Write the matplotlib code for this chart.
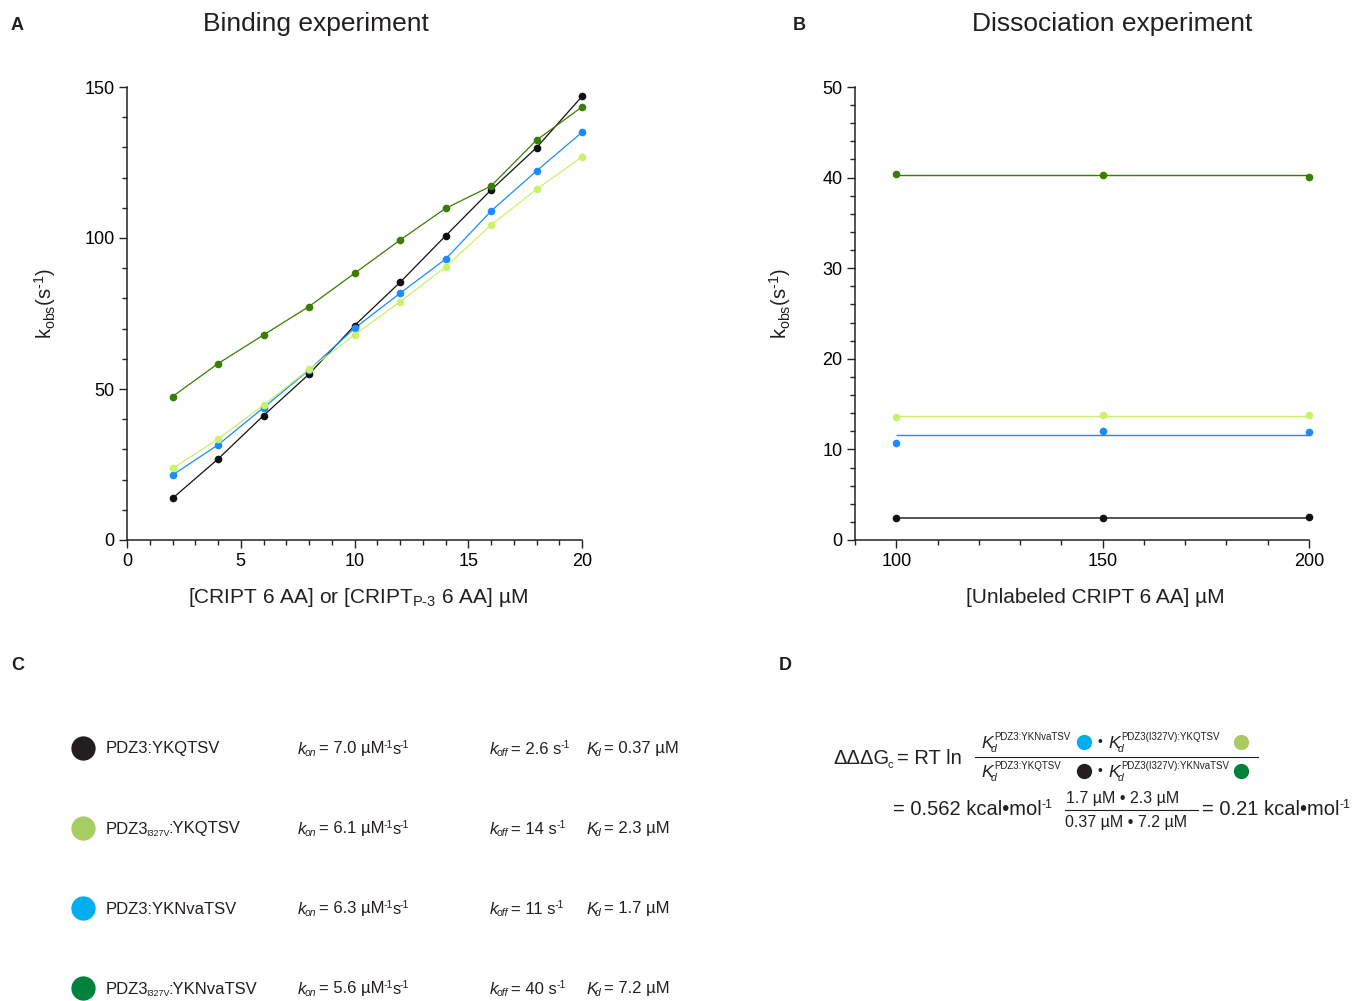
import matplotlib
matplotlib.use('Agg')
import matplotlib.pyplot as plt
from matplotlib.ticker import MultipleLocator

plt.rcParams['font.family'] = ['Liberation Sans', 'DejaVu Sans']
plt.rcParams['mathtext.fontset'] = 'custom'
plt.rcParams['mathtext.rm'] = 'Liberation Sans'
plt.rcParams['mathtext.it'] = 'Liberation Sans:italic'
plt.rcParams['mathtext.bf'] = 'Liberation Sans:bold'

# ---------------- data ----------------
conc = [2, 4, 6, 8, 10, 12, 14, 16, 18, 20]
kobs_ykqtsv = [13.8, 26.8, 41.2, 54.9, 71.0, 85.3, 100.7, 115.9, 129.9, 146.9]
kobs_yknva = [21.5, 31.5, 43.8, 56.3, 70.1, 81.7, 93.0, 108.9, 122.2, 135.0]
kobs_i327v_ykqtsv = [23.7, 33.4, 44.7, 56.5, 67.9, 78.9, 90.4, 104.3, 116.1, 126.9]
kobs_i327v_yknva = [47.5, 58.4, 67.9, 77.3, 88.3, 99.3, 109.8, 117.2, 132.4, 143.4]

diss_conc = [100, 150, 200]
diss_ykqtsv = [2.39, 2.39, 2.57]
diss_yknva = [10.7, 12.0, 11.9]
diss_i327v_ykqtsv = [13.6, 13.8, 13.8]
diss_i327v_yknva = [40.4, 40.3, 40.1]
diss_fit = [2.45, 11.55, 13.7, 40.3]

legend_labels = [r"PDZ3$_{\mathrm{YKQTSV}}$", r"PDZ3$_{\mathrm{YKNvaTSV}}$",
                 r"PDZ3 I327V$_{\mathrm{YKQTSV}}$", r"PDZ3 I327V$_{\mathrm{YKNvaTSV}}$"]
table_names = [("PDZ3:YKQTSV", "", ""), ("PDZ3", "I327V", ":YKQTSV"),
               ("PDZ3:YKNvaTSV", "", ""), ("PDZ3", "I327V", ":YKNvaTSV")]
table_kon = ["7.0", "6.1", "6.3", "5.6"]
table_koff = ["2.6", "14", "11", "40"]
table_kd = ["0.37", "2.3", "1.7", "7.2"]

data_colors = ['#111111', '#1a8cff', '#c8f26a', '#3b7d00']
key_colors = ['#231f20', '#00aeef', '#a6cc62', '#00813e']
table_colors = ['#231f20', '#a6cc62', '#00aeef', '#00813e']
TXT = '#231f20'

fig = plt.figure(figsize=(13.62, 10.01), dpi=100)
W, H = 1362, 1001


def style_axes(ax):
    for s in ['top', 'right']:
        ax.spines[s].set_visible(False)
    for s in ['left', 'bottom']:
        ax.spines[s].set_linewidth(1.1)
        ax.spines[s].set_color('#222222')
    ax.tick_params(which='major', length=6, width=1.0, labelsize=13, colors='#222222', pad=3)
    ax.tick_params(which='minor', length=3.5, width=1.0, colors='#222222')
    for lab in ax.get_xticklabels() + ax.get_yticklabels():
        lab.set_color('black')


# ---------------- Panel A ----------------
axA = fig.add_axes([127 / W, 1 - 540 / H, 455 / W, 453 / H])
seriesA = [kobs_ykqtsv, kobs_yknva, kobs_i327v_ykqtsv, kobs_i327v_yknva]
for vals, c in zip(seriesA, data_colors):
    axA.plot(conc, vals, '-', color=c, lw=0.9, clip_on=False, zorder=2)
    axA.plot(conc, vals, 'o', color=c, ms=5.5, mec='none', clip_on=False, zorder=3)
axA.set_xlim(0, 20)
axA.set_ylim(0, 150)
axA.xaxis.set_major_locator(MultipleLocator(5))
axA.xaxis.set_minor_locator(MultipleLocator(1))
axA.yaxis.set_major_locator(MultipleLocator(50))
axA.yaxis.set_minor_locator(MultipleLocator(10))
style_axes(axA)

# ---------------- Panel B ----------------
axB = fig.add_axes([855 / W, 1 - 540 / H, 454 / W, 453 / H])
seriesB = [diss_ykqtsv, diss_yknva, diss_i327v_ykqtsv, diss_i327v_yknva]
for vals, lvl, c in zip(seriesB, diss_fit, data_colors):
    axB.hlines(lvl, min(diss_conc), max(diss_conc), color=('#555555' if c == '#111111' else c),
               lw=1.4 if c == '#111111' else 1.0, zorder=2)
    axB.plot(diss_conc, vals, 'o', color=c, ms=5.5, mec='none', clip_on=False, zorder=3)
axB.set_xlim(90, 200)
axB.set_ylim(0, 50)
axB.set_xticks([100, 150, 200])
axB.xaxis.set_minor_locator(MultipleLocator(10))
axB.yaxis.set_major_locator(MultipleLocator(10))
axB.yaxis.set_minor_locator(MultipleLocator(2))
style_axes(axB)

# ---------------- overlay (pixel coords) ----------------
bg = fig.add_axes([0, 0, 1, 1], zorder=-1)
bg.set_xlim(0, W)
bg.set_ylim(H, 0)
bg.axis('off')
fig.canvas.draw()
R = fig.canvas.get_renderer()
TRIM = 2.0


def put(x, y, s, fs, italic=False, **kw):
    t = bg.text(x, y, s, fontsize=fs, ha='left', va='baseline', color=TXT,
                fontstyle='italic' if italic else 'normal', **kw)
    bb = t.get_window_extent(renderer=R)
    return x + bb.width - TRIM


def seq(x, y, pieces):
    # pieces: (text, fontsize, dy, italic, gap_after)
    for s, fs, dy, it, gap in pieces:
        x = put(x, y + dy, s, fs, it) + gap
    return x


# panel letters and titles
for letter, (x, y) in zip("ABCD", [(11, 25), (793, 25), (11, 666), (779, 666)]):
    bg.text(x, y, letter, fontsize=13, fontweight='bold', ha='left', va='center', color=TXT)
bg.text(316, 24, "Binding experiment", fontsize=19, ha='center', va='center', color=TXT)
bg.text(1112, 24, "Dissociation experiment", fontsize=19, ha='center', va='center', color=TXT)

# axis labels
bg.text(358, 603, r"[CRIPT 6 AA] or [CRIPT$_{\mathrm{P\text{-}3}}$ 6 AA] µM", fontsize=15,
        ha='center', va='baseline', color=TXT)
bg.text(1095, 603, "[Unlabeled CRIPT 6 AA] µM", fontsize=15, ha='center', va='baseline', color=TXT)
for x in (45, 780):
    bg.text(x, 304, r"k$_{\mathrm{obs}}$(s$^{\text{-1}}$)", fontsize=14.5, rotation=90,
            ha='center', va='center', color=TXT)

# legend of panel A
for i, (lab, c) in enumerate(zip(legend_labels, key_colors)):
    y = 104 + 30 * i
    bg.plot([155], [y], 'o', color=c, ms=9, mec='none')
    bg.text(200, y + 5, lab, fontsize=11, ha='left', va='baseline', color=TXT)

# ---------------- Panel C ----------------
FS = 12
SS = 7.5
for i in range(4):
    y = 748 + 80 * i
    yb = y + 5.5
    bg.plot([83], [y], 'o', color=table_colors[i], ms=17.5, mec='none')
    a, sub, b = table_names[i]
    pieces = [(a, FS, 0, False, 0)]
    if sub:
        pieces.append((sub, 6.5, 3, False, 0.5))
        pieces.append((b, FS, 0, False, 0))
    seq(106, yb, pieces)
    seq(298, yb, [("k", FS, 0, True, 0), ("on", SS, 3, True, 5),
                  ("= " + table_kon[i] + " µM", FS, 0, False, 1.5),
                  ("-1", SS, -5, False, 1.0), ("s", FS, 0, False, 1.5), ("-1", SS, -5, False, 0)])
    seq(490, yb, [("k", FS, 0, True, 0), ("off", SS, 3, True, 5),
                  ("= " + table_koff[i] + " s", FS, 0, False, 1.5), ("-1", SS, -5, False, 0)])
    seq(586, yb, [("K", FS, 0, True, 0), ("d", SS, 3, True, 5),
                  ("= " + table_kd[i] + " µM", FS, 0, False, 0)])

# ---------------- Panel D ----------------
seq(833, 764, [("ΔΔΔG", 14.5, 0, False, 0), ("c", 8, 4, False, 6), ("= RT ln", 14.5, 0, False, 0)])
bg.plot([975, 1258], [757, 757], color=TXT, lw=0.8)


def kd_term(x, yb, sup):
    xe = put(x, yb, "K", 12.5, True)
    put(xe, yb + 4, "d", 7.5, True)
    put(xe + 4, yb - 8, sup, 7)


num = [(981, "PDZ3:YKNvaTSV", 1084, '#00aeef'), (1108, "PDZ3(I327V):YKQTSV", 1241, '#a6cc62')]
den = [(981, "PDZ3:YKQTSV", 1084, '#231f20'), (1108, "PDZ3(I327V):YKNvaTSV", 1241, '#00813e')]
for row, yb, yd in [(num, 748, 742), (den, 777, 771)]:
    for x, s, xd, c in row:
        kd_term(x, yb, s)
        bg.plot([xd], [yd], 'o', color=c, ms=11, mec='none')
    bg.text(1100, yb - 2, "•", fontsize=10, ha='center', va='baseline', color=TXT)

seq(893, 815, [("= 0.562 kcal•mol", 14.5, 0, False, 1.5), ("-1", 9, -7, False, 0)])
bg.text(1123, 803, "1.7 µM • 2.3 µM", fontsize=11.5, ha='center', va='baseline', color=TXT)
bg.plot([1065, 1198], [810, 810], color=TXT, lw=0.8)
bg.text(1126, 827, "0.37 µM • 7.2 µM", fontsize=11.5, ha='center', va='baseline', color=TXT)
seq(1202, 815, [("= 0.21 kcal•mol", 14.5, 0, False, 1.5), ("-1", 9, -7, False, 0)])

fig.savefig('out.png', dpi=100)
